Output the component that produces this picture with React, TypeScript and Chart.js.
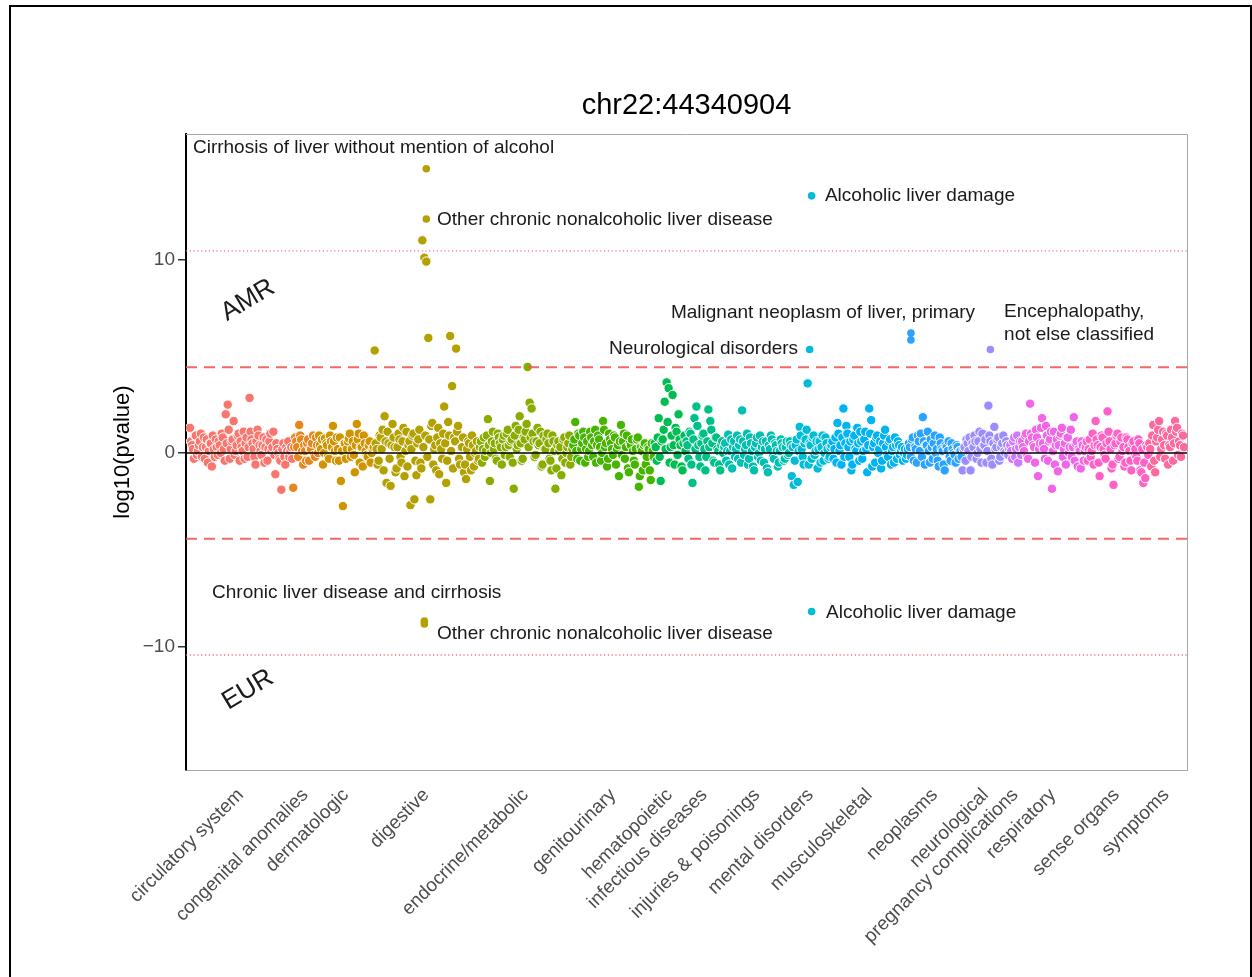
import React, { useEffect, useRef } from "react";
import { Chart, registerables } from "chart.js";

Chart.register(...registerables);

// ---------------- DATA ----------------
const categories = [
  "circulatory system",
  "congenital anomalies",
  "dermatologic",
  "digestive",
  "endocrine/metabolic",
  "genitourinary",
  "hematopoietic",
  "infectious diseases",
  "injuries & poisonings",
  "mental disorders",
  "musculoskeletal",
  "neoplasms",
  "neurological",
  "pregnancy complications",
  "respiratory",
  "sense organs",
  "symptoms",
];

// primary values per phenotype (one per x position)
const circulatory = [1.3, 0.4, -0.3, 0.9, 0.1, 0.6, -0.2, 0.8, 0.3, -0.5, 0.5, -0.7, 0.2, 0.7, -0.1, 0.4, 1.0, 0.2, 2.0, 2.5, -0.3, 0.6, 1.65, 0.1, 0.9, -0.4, 0.3, 1.1, 0.5, -0.2, 2.85, 0.7, 0.2, -0.6, 1.2, 0.4, -0.1, 0.8, 0.3, -0.4, 0.6, 0.1, 1.1, -1.1, 0.2, -0.3, -1.9, 0.5, -0.6, 0.1, -0.2, 0.3];
const congenital = [-1.8, 0.8, 0.3, 1.45, 0.7, -0.6, 0.1, 0.5, -0.4, 0.2, 0.9, -0.2, 0.4];
const dermatologic = [0.9, 0.2, -0.6, 0.75, 0.4, -0.3, 0.6, 1.4, 0.1, 0.8, -0.4, -1.45, -2.75, 0.5, 0.2, 0.75, -0.2, 0.6, -1.0, 1.5, 1.0, 0.3, -0.7, 0.5, -0.1, 0.4, -0.5, 0.2];
const digestive = [5.3, 0.2, -0.4, 0.8, 1.2, 1.9, -1.55, 0.5, -1.7, 1.5, 0.3, -0.8, 1.0, -0.2, 0.6, -1.2, 1.1, 0.4, -2.7, 0.9, -2.4, -1.15, 0.7, -0.5, 11.0, 10.1, 9.9, 5.95, -2.4, 1.55, 0.2, -0.9, 1.3, 0.5, -0.3, 2.4, -1.55, 1.6, 6.05, 3.46, 0.8, 5.4, 1.4, -0.6, 0.3, -1.0, -1.35, 0.6, -0.2, 0.9, -0.7, 0.1, -0.4];
const endocrine = [0.3, -0.5, 0.8, 0.1, 1.75, -1.45, 0.6, 0.2, -0.3, 1.0, 0.5, -0.6, 0.9, 0.3, 1.2, -0.2, 0.7, -1.85, 1.4, 0.4, 1.9, -0.4, 0.8, 1.1, 4.45, 2.6, 2.3, 0.6, -0.1, 1.3, 0.5, -0.7, 0.9, 0.2, 1.0, -0.3, -0.9, 0.6, -1.85, 0.4, 0.1, -1.15, 0.7, -0.5, 0.3, 0.9, -0.2];
const genitourinary = [0.4, 1.6, -0.3, 0.9, 0.2, 1.1, -0.5, 0.6, 0.1, 0.8, -0.2, 1.2, 0.4, 0.7, -0.4, 1.65, 0.3, -0.7, 1.0, 0.5, -0.1, 0.8, 0.2, -1.2, 1.45, 0.6, -0.3, 0.9, -1.0, 0.4, 0.1, -0.6, 0.7, -1.75, 0.3, -0.9, 0.5, -0.2, 0.2, -1.4, 0.1];
const hematopoietic = [0.5, -0.4, 1.8, -1.45, 0.7, 2.65, 3.65, 3.35, 0.3, 3.0, -0.6, 1.1, 2.0, 0.4, -0.9, 0.9];
const infectious = [0.6, -0.3, 1.0, -1.55, 1.8, 2.4, 0.4, -0.7, 0.9, 0.2, -0.2, 2.25, 1.65, 0.5, -0.5, 0.8, 0.1, -0.9, 0.6];
const injuries = [0.3, -0.4, 0.95, 0.1, -0.8, 0.6, 0.2, -0.3, 0.7, 2.2, -0.1, 0.4, -0.6, 0.8, 0.1, -0.9, 0.5, -0.2, 0.9, 0.3, -0.5, 0.6, -1.0, 0.2, 0.7, -0.3, 0.4, -0.7, 0.1, 0.5, -0.4, 0.3, -0.1, 0.6];
const mental = [-1.2, -1.65, 0.4, -1.5, 1.35, 0.2, -0.6, 0.7, 3.6, 0.5, -0.3, 0.9, 0.1, -0.8, 0.6, 0.3, -0.4, 0.8, 0.2, -0.2];
const musculoskeletal = [0.4, -0.3, 0.8, 1.55, 0.1, -0.6, 2.3, 0.5, 1.0, -0.2, -0.9, 0.7, 0.2, 1.3, -0.4, 0.6, 0.1, 1.1, -1.0, 2.3, 1.7, 0.3, -0.5, 0.9, 0.2, -0.8, 0.5, 1.2, -0.1, 0.6, -0.6, 0.3, 0.8, -0.3, 0.4, 0.1, -0.4, 0.2, -0.1];
const neoplasms = [0.5, -0.2, 0.8, 0.3, -0.5, 0.6, 1.0, 1.85, -0.6, 0.4, 0.1, 0.7, -0.3, 0.9, 0.2, -0.7, 0.5, 0.1, -0.9, 0.3, 0.6, -0.4, 0.2, -0.1, 0.4, -0.3, 0.1];
const neurological = [-0.9, 0.3, 0.7, 0.1, -0.9, 0.5, 0.9, -0.3, 0.6, 0.2, 1.0, 0.4, -0.5, 2.45, 0.6, -0.6, 1.35, 0.3, 0.8, -0.2, 0.5, 0.1, 0.6, -0.1];
const pregnancy = [0.4, -0.3, 0.8, 0.2, -0.5, 0.6];
const respiratory = [0.6, 0.1, 1.0, -0.3, 2.55, 0.8, 0.3, 1.2, -1.2, 0.5, 1.8, 0.2, 1.4, -0.4, 0.7, -1.85, 1.1, 0.4, -0.95, 0.9, 1.3, 0.2, -0.6, 0.8, 0.3, -0.2, 1.85, 0.5, -0.7, 0.1, 0.6, -0.4];
const senseOrgans = [0.3, -0.4, 0.7, 0.1, -0.6, 1.65, 0.4, -1.2, 0.9, 0.2, -0.3, 2.15, 0.6, -0.8, -1.65, 0.5, 1.0, -0.2, 0.8, 0.3, -0.5, 0.7, 0.1, -0.9, 0.6, 0.2, -0.4, 0.5, -1.0, -1.55, -1.3, 0.3];
const symptoms = [0.5, -0.7, 1.45, -1.0, 0.8, 1.65, 0.2, 1.1, -0.3, 0.9, 0.4, 1.2, -0.4, 1.65, 1.3, 0.6, -0.2, 0.9];

// second population values (placed between the primary positions)
const circulatoryB = [0.6, 0.2, 0.9, -0.1, 0.4, 1.0, 0.3, -0.3, 0.7, 0.1, 0.5, 0.9, -0.2, 0.3, 0.6, 0.0, 0.8, -0.4, 0.5, 1.2, 0.2, 0.7, -0.1, 0.4, 1.0, 0.6, 0.1, -0.3, 0.8, 0.3, 1.1, 0.5, -0.2, 0.6, 0.9, 0.1, 0.4, -0.5, 0.7, 0.2, 1.0, 0.3, -0.1, 0.5, 0.0, -0.4, 0.2, -0.2, 0.3, 0.6, 0.1, -0.3];
const congenitalB = [0.3, 0.6, -0.2, 0.9, 0.1, 0.4, -0.4, 0.7, 0.2, 0.5, -0.1, 0.8, 0.0];
const dermatologicB = [0.4, 0.7, 0.0, 0.5, -0.2, 0.9, 0.3, 0.6, -0.4, 0.2, 0.8, 0.1, 0.5, -0.3, 0.6, 1.0, 0.2, -0.1, 0.4, 0.7, -0.5, 0.3, 0.9, 0.1, -0.2, 0.6, 0.0, 0.3];
const digestiveB = [0.5, -0.6, 0.9, 0.2, -0.9, 0.6, 1.1, -0.3, 0.4, 0.8, -1.0, 0.3, 0.7, -0.5, 1.3, 0.1, -0.7, 0.6, 0.2, 1.0, -0.4, 0.5, 1.2, -0.8, 0.3, 0.9, -0.2, 0.7, 1.4, -0.6, 0.4, 0.8, -1.1, 0.2, 1.0, 0.5, -0.4, 0.9, 0.1, -0.8, 0.6, 1.1, -0.3, 0.3, 0.8, -0.6, 0.2, 0.5, -0.9, 0.4, 0.0, 0.6, -0.3];
const endocrineB = [0.6, 0.2, -0.2, 0.9, 0.4, 0.0, 1.1, 0.5, -0.4, 0.8, 0.3, 0.7, -0.1, 1.0, 0.4, 0.6, -0.5, 0.9, 0.2, 1.2, 0.5, -0.3, 0.7, 1.5, 0.3, 0.8, 1.0, -0.2, 0.6, 0.4, 1.1, -0.6, 0.2, 0.7, 0.5, -0.4, 0.9, 0.1, -0.8, 0.6, 0.3, -0.3, 0.8, 0.0, 0.5, -0.6, 0.2];
const genitourinaryB = [0.7, 0.1, 1.0, -0.4, 0.5, 0.8, 0.2, -0.2, 1.1, 0.4, 0.6, -0.5, 0.9, 0.3, 0.0, 1.2, 0.5, -0.3, 0.7, 0.2, 0.9, -0.6, 0.4, 0.6, -0.1, 1.0, 0.3, -0.8, 0.5, 0.7, -0.4, 0.2, 0.8, -1.2, 0.1, 0.4, -0.6, 0.3, -0.9, 0.5, -0.2];
const hematopoieticB = [0.3, 0.8, -0.2, 0.6, 1.2, 0.2, 1.6, -0.5, 0.9, 0.4, 1.3, -0.1, 0.7, -0.7, 0.5, 0.1];
const infectiousB = [0.4, 1.1, -0.6, 0.7, 0.2, 1.4, -0.2, 0.5, 1.0, -0.9, 0.6, 0.3, 1.2, -0.4, 0.8, 0.2, -0.6, 0.4, 0.0];
const injuriesB = [0.5, 0.1, -0.6, 0.7, 0.3, -0.2, 0.9, 0.4, -0.5, 0.6, 0.2, 1.0, -0.3, 0.5, -0.7, 0.3, 0.8, 0.0, -0.4, 0.6, 0.2, -0.8, 0.4, 0.9, -0.2, 0.5, 0.1, -0.5, 0.7, 0.3, -0.3, 0.6, 0.0, 0.4];
const mentalB = [0.3, -0.4, 0.7, 0.1, 0.9, -0.2, 0.5, 1.2, -0.6, 0.4, 0.8, -0.1, 0.6, 0.2, -0.5, 0.9, 0.0, 0.5, -0.3, 0.3];
const musculoskeletalB = [0.6, 0.2, -0.5, 1.0, 0.4, 0.8, -0.2, 1.4, 0.3, 0.6, -0.6, 0.9, 0.1, 0.5, 1.1, -0.3, 0.7, 0.2, 0.4, 1.0, -0.7, 0.5, 0.8, 0.0, 0.6, -0.4, 0.9, 0.3, -0.2, 0.7, 0.1, -0.5, 0.4, 0.6, -0.1, 0.3, 0.0, -0.3, 0.2];
const neoplasmsB = [0.3, 0.7, -0.4, 0.2, 0.9, 0.1, -0.2, 0.6, 0.4, 1.1, -0.5, 0.3, 0.5, 0.0, -0.4, 0.8, 0.2, -0.6, 0.4, 0.1, -0.2, 0.5, 0.0, -0.5, 0.3, 0.1, -0.2];
const neurologicalB = [0.2, -0.4, 0.5, 0.8, -0.2, 0.3, 0.6, 0.0, 1.1, -0.5, 0.4, 0.7, 0.1, 0.9, -0.3, 0.5, 0.2, 0.7, -0.4, 0.3, 0.9, 0.0, 0.4, 0.2];
const pregnancyB = [0.1, 0.6, -0.2, 0.9, 0.3, -0.1];
const respiratoryB = [0.3, 0.9, -0.2, 0.6, 1.0, 0.4, -0.5, 0.8, 0.2, 1.3, 0.5, -0.3, 0.9, 0.6, 1.1, 0.1, -0.6, 0.7, 0.4, 1.0, -0.2, 0.5, 0.8, 0.0, 1.2, 0.3, -0.4, 0.6, 0.2, -0.8, 0.4, 0.1];
const senseOrgansB = [0.6, 0.2, -0.2, 1.0, 0.4, 0.7, -0.5, 0.3, 0.8, -0.1, 0.5, 1.1, 0.2, -0.6, 0.4, 0.9, -0.3, 0.6, 0.1, -0.7, 0.8, 0.3, -0.4, 0.5, 0.0, -0.2, 0.7, -0.9, 0.2, -0.5, 0.4, -0.1];
const symptomsB = [0.2, 0.9, -0.4, 0.6, 1.2, -0.2, 0.7, 0.4, 1.0, -0.6, 0.3, 0.8, 0.5, 1.1, -0.1, 0.4, 1.0, 0.3];

const categoryValues = [
  circulatory, congenital, dermatologic, digestive, endocrine, genitourinary,
  hematopoietic, infectious, injuries, mental, musculoskeletal, neoplasms,
  neurological, pregnancy, respiratory, senseOrgans, symptoms,
];
const categoryValuesB = [
  circulatoryB, congenitalB, dermatologicB, digestiveB, endocrineB, genitourinaryB,
  hematopoieticB, infectiousB, injuriesB, mentalB, musculoskeletalB, neoplasmsB,
  neurologicalB, pregnancyB, respiratoryB, senseOrgansB, symptomsB,
];

// labelled hits: category index, position within category, value
const hitCategory = [3, 3, 9, 9, 11, 11, 12, 3, 3, 9];
const hitPosition = [26, 26, 10, 9, 1, 1, 14, 25, 25, 10];
const hitValue = [14.7, 12.1, 13.3, 5.35, 6.2, 5.85, 5.35, -8.7, -8.85, -8.2];

const dashedThresholds = [4.44, -4.44];
const dottedThresholds = [10.45, -10.45];
const yTicks = [-10, 0, 10];

// text annotations (data coordinates)
const annotations = [
  { text: "Cirrhosis of liver without mention of alcohol", x: 1.5, y: 15.8, align: "left" },
  { text: "Other chronic nonalcoholic liver disease", x: 124.4, y: 12.04, align: "left" },
  { text: "Alcoholic liver damage", x: 319.7, y: 13.28, align: "left" },
  { text: "Malignant neoplasm of liver, primary", x: 395.3, y: 7.24, align: "right" },
  { text: "Encephalopathy,", x: 409.9, y: 7.29, align: "left" },
  { text: "not else classified", x: 409.9, y: 6.1, align: "left" },
  { text: "Neurological disorders", x: 306.2, y: 5.37, align: "right" },
  { text: "Chronic liver disease and cirrhosis", x: 11.1, y: -7.24, align: "left" },
  { text: "Other chronic nonalcoholic liver disease", x: 124.4, y: -9.35, align: "left" },
  { text: "Alcoholic liver damage", x: 320.3, y: -8.27, align: "left" },
];
const groupLabels = [
  { text: "AMR", x: 29.2, y: 7.9 },
  { text: "EUR", x: 29.2, y: -12.25 },
];

// ---------------- HELPERS ----------------
function hcl(h: number, c: number, l: number): string {
  const hr = (h * Math.PI) / 180;
  const U = c * Math.cos(hr);
  const V = c * Math.sin(hr);
  const Xn = 95.047, Yn = 100, Zn = 108.883;
  const den = Xn + 15 * Yn + 3 * Zn;
  const un = (4 * Xn) / den, vn = (9 * Yn) / den;
  const Y = Yn * (l > 8 ? Math.pow((l + 16) / 116, 3) : l / 903.3);
  const up = U / (13 * l) + un;
  const vp = V / (13 * l) + vn;
  const X = (Y * 9 * up) / (4 * vp);
  const Z = (Y * (12 - 3 * up - 20 * vp)) / (4 * vp);
  const x = X / 100, y = Y / 100, z = Z / 100;
  const lin = [
    3.240479 * x - 1.53715 * y - 0.498535 * z,
    -0.969256 * x + 1.875992 * y + 0.041556 * z,
    0.055648 * x - 0.204043 * y + 1.057311 * z,
  ];
  const out = lin.map((v) => {
    const g = v <= 0.0031308 ? 12.92 * v : 1.055 * Math.pow(v, 1 / 2.4) - 0.055;
    return Math.round(Math.max(0, Math.min(1, g)) * 255);
  });
  return `rgb(${out[0]},${out[1]},${out[2]})`;
}

const n = categories.length;
const colors = categories.map((_, i) => hcl(15 + (360 / n) * i, 100, 65));

const starts: number[] = [];
{
  let s = 0;
  for (const arr of categoryValues) {
    starts.push(s);
    s += arr.length;
  }
}
const centers = categoryValues.map((arr, i) => starts[i] + (arr.length - 1) / 2);
const X_MIN = -2;
const X_MAX = 502;

const FONT = "'Liberation Sans', Arial, Helvetica, sans-serif";

export default function App() {
  const ref = useRef<HTMLCanvasElement | null>(null);

  useEffect(() => {
    if (!ref.current) return;
    Chart.defaults.font.family = FONT;

    const pointSets: any[] = categoryValues.map((vals, c) => {
      const pts: { x: number; y: number }[] = [];
      vals.forEach((y, j) => {
        pts.push({ x: starts[c] + j, y });
        const b = categoryValuesB[c][j];
        if (b !== undefined) pts.push({ x: starts[c] + j + 0.5, y: b });
      });
      return {
        label: categories[c],
        data: pts,
        backgroundColor: colors[c],
        borderColor: "#ffffff",
        borderWidth: 1,
        pointRadius: 4.7,
        order: -c,
      };
    });

    const hitSet = {
      label: "hits",
      data: hitValue.map((y, k) => ({ x: starts[hitCategory[k]] + hitPosition[k], y })),
      backgroundColor: hitCategory.map((c) => colors[c]),
      borderWidth: 0,
      pointRadius: 3.8,
      order: -60,
    };

    const lineSet = (y: number, color: string, width: number, dash: number[], order: number) => ({
      label: "line",
      data: [
        { x: X_MIN, y },
        { x: X_MAX, y },
      ],
      showLine: true,
      borderColor: color,
      borderWidth: width,
      borderDash: dash,
      pointRadius: 0,
      fill: false,
      order,
    });

    const lines = [
      ...dashedThresholds.map((t) => lineSet(t, "rgba(240,88,88,0.9)", 2, [11, 7], -100)),
      ...dottedThresholds.map((t) => lineSet(t, "rgba(240,100,110,0.9)", 1.3, [1.2, 2.6], -100)),
      lineSet(0, "#000000", 1.6, [], -101),
    ];

    const decor = {
      id: "decor",
      beforeDraw(chart: any) {
        const ctx = chart.ctx;
        ctx.save();
        ctx.fillStyle = "#ffffff";
        ctx.fillRect(0, 0, chart.width, chart.height);
        ctx.fillStyle = "#000000";
        ctx.fillRect(9, 5, 2, chart.height);
        ctx.fillRect(9, 5, chart.width - 9, 2);
        ctx.fillRect(chart.width - 2, 5, 2, chart.height);
        ctx.restore();
      },
      afterDatasetsDraw(chart: any) {
        const ctx = chart.ctx;
        const { left, top, right, bottom } = chart.chartArea;
        const xs = chart.scales.x;
        const ys = chart.scales.y;
        ctx.save();
        ctx.strokeStyle = "#a8a8a8";
        ctx.lineWidth = 1;
        ctx.beginPath();
        ctx.moveTo(left, top + 0.5);
        ctx.lineTo(right + 0.5, top + 0.5);
        ctx.lineTo(right + 0.5, bottom);
        ctx.stroke();

        ctx.fillStyle = "#1a1a1a";
        ctx.font = `19px ${FONT}`;
        ctx.textBaseline = "middle";
        for (const a of annotations) {
          ctx.textAlign = a.align as CanvasTextAlign;
          ctx.fillText(a.text, xs.getPixelForValue(a.x), ys.getPixelForValue(a.y));
        }
        ctx.font = `26px ${FONT}`;
        ctx.textAlign = "center";
        for (const g of groupLabels) {
          ctx.save();
          ctx.translate(xs.getPixelForValue(g.x), ys.getPixelForValue(g.y));
          ctx.rotate((-31 * Math.PI) / 180);
          ctx.fillText(g.text, 0, 0);
          ctx.restore();
        }
        ctx.restore();
      },
    };

    const chart = new Chart(ref.current, {
      type: "scatter",
      data: { datasets: [...pointSets, hitSet, ...lines] },
      options: {
        animation: false,
        responsive: false,
        events: [],
        layout: { padding: { left: 106, right: 65, top: 0, bottom: 0 } },
        plugins: {
          legend: { display: false },
          tooltip: { enabled: false },
          title: {
            display: true,
            text: "chr22:44340904",
            color: "#000000",
            font: { size: 29, weight: "normal", family: FONT },
            padding: { top: 89, bottom: 10.2 },
            fullSize: false,
          },
        },
        scales: {
          x: {
            type: "linear",
            min: X_MIN,
            max: X_MAX,
            afterBuildTicks(scale: any) {
              scale.ticks = centers.map((v) => ({ value: v }));
            },
            afterFit(scale: any) {
              scale.height = 207;
            },
            ticks: {
              autoSkip: false,
              minRotation: 45,
              maxRotation: 45,
              padding: 9,
              color: "#4d4d4d",
              font: { size: 19, family: FONT },
              callback: (_v: any, i: number) => categories[i],
            },
            grid: { drawOnChartArea: false, drawTicks: true, tickLength: 5, color: "rgba(0,0,0,0)" },
            border: { display: true, color: "#a8a8a8", width: 1 },
          },
          y: {
            type: "linear",
            min: -16.4,
            max: 16.5,
            afterBuildTicks(scale: any) {
              scale.ticks = yTicks.map((v) => ({ value: v }));
            },
            afterFit(scale: any) {
              scale.width = 80;
            },
            ticks: {
              padding: 3,
              color: "#4d4d4d",
              font: { size: 19, family: FONT },
              callback: (v: any) => (v < 0 ? "\u2212" + Math.abs(v) : String(v)),
            },
            grid: { drawOnChartArea: false, drawTicks: true, tickLength: 8, color: "#333333", lineWidth: 1.5 },
            border: { display: true, color: "#000000", width: 2 },
            title: {
              display: true,
              text: "log10(pvalue)",
              color: "#000000",
              font: { size: 22, family: FONT },
              padding: { top: 4, bottom: 4 },
            },
          },
        },
      } as any,
      plugins: [decor],
    });

    return () => chart.destroy();
  }, []);

  return (
    <div style={{ position: "fixed", left: 0, top: 0, width: 1252, height: 977, overflow: "hidden", background: "#fff" }}>
      <canvas ref={ref} width={1252} height={977} style={{ position: "absolute", left: 0, top: 0, width: 1252, height: 977 }} />
    </div>
  );
}
